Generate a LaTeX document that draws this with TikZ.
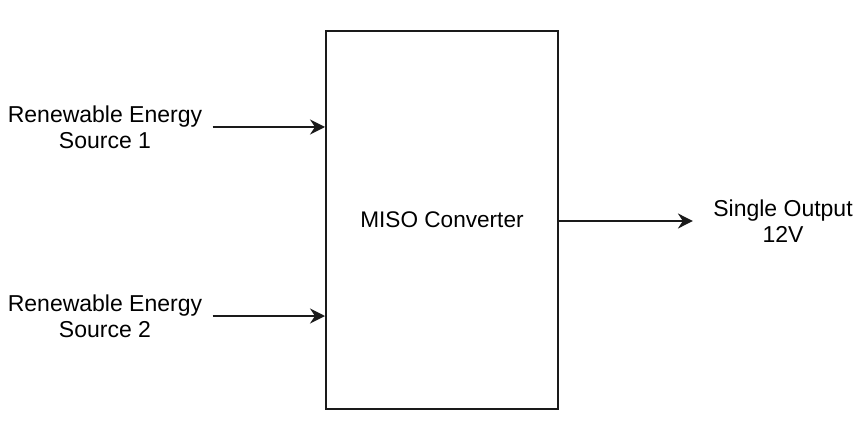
\documentclass[tikz,border=0pt]{standalone}
\usepackage{fontspec}
\setmainfont{Liberation Sans}
\usetikzlibrary{arrows.meta,positioning}
\definecolor{ink}{HTML}{1A1A1A}

\begin{document}
\begin{tikzpicture}[
  x=0.5pt,y=-0.5pt,
  label/.style={align=center,inner xsep=5pt,font=\fontsize{11.5}{12.8}\selectfont},
  block/.style={draw=ink,line width=1pt,minimum width=116pt,minimum height=189pt,font=\fontsize{11.3}{12.6}\selectfont},
  arrow/.style={-{Stealth[length=7.5pt,width=7.5pt,inset=2.5pt]},line width=1pt,ink}
]
\useasboundingbox (0,0) rectangle (865,422);
\node[block] (miso) at (442,220) {MISO Converter};
\node[label] (src1) at (105,127) {Renewable Energy\\Source 1};
\node[label] (src2) at (105,316) {Renewable Energy\\Source 2};
\node[label,inner xsep=10pt] (out) at (783,221) {Single Output\\12V};
\draw[arrow] (src1.east) -- (src1.east -| miso.west);
\draw[arrow] (src2.east) -- (src2.east -| miso.west);
\draw[arrow] (miso.east |- out.west) -- (out.west);
\end{tikzpicture}
\end{document}
